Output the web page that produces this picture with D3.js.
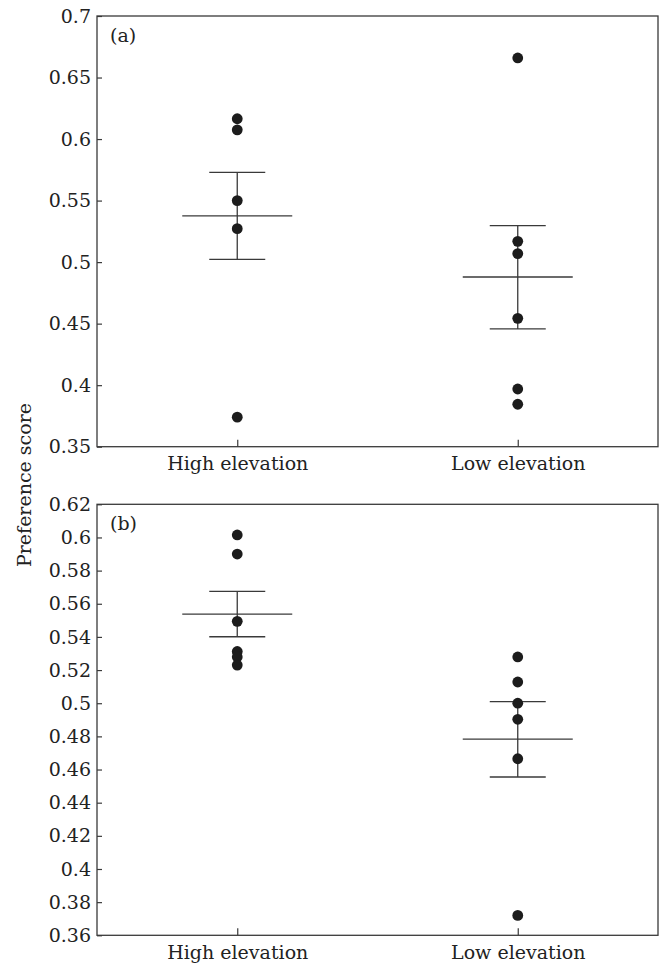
<!DOCTYPE html>
<html>
<head>
<meta charset="utf-8">
<script src="https://cdn.jsdelivr.net/npm/d3@7"></script>
<style>
  html, body { margin: 0; padding: 0; background: #fff; }
  svg text { font-family: "DejaVu Serif", serif; fill: #222; }
</style>
</head>
<body>
<svg id="chart" width="663" height="966"></svg>
<script>
// ---- data ----
const categories = ["High elevation", "Low elevation"];

const panelALabel = "(a)";
const panelAHigh = [0.6165, 0.6075, 0.55, 0.5272, 0.374];
const panelALow = [0.6659, 0.5169, 0.5069, 0.4543, 0.3969, 0.3845];
const panelAMean = [0.5375, 0.4879];
const panelAUpper = [0.573, 0.5296];
const panelALower = [0.5023, 0.4457];
const panelATicks = [0.35, 0.4, 0.45, 0.5, 0.55, 0.6, 0.65, 0.7];

const panelBLabel = "(b)";
const panelBHigh = [0.6015, 0.590, 0.5494, 0.5312, 0.5279, 0.523];
const panelBLow = [0.5279, 0.5128, 0.500, 0.4903, 0.4665, 0.372];
const panelBMean = [0.5538, 0.4784];
const panelBUpper = [0.5675, 0.501];
const panelBLower = [0.5401, 0.4555];
const panelBTicks = [0.36, 0.38, 0.4, 0.42, 0.44, 0.46, 0.48, 0.5, 0.52, 0.54, 0.56, 0.58, 0.6, 0.62];

const yAxisTitle = "Preference score";

// ---- layout ----
const svg = d3.select("#chart");
const left = 97, right = 658;
const lineColor = "#3a3a3a";
const dotColor = "#1c1c1c";
const fs = "19px";

const x = d3.scalePoint().domain(categories).range([left, right]).padding(0.5);

function drawPanel(cfg) {
  const y = d3.scaleLinear().domain([cfg.ticks[0], cfg.ticks[cfg.ticks.length - 1]]).range([cfg.bottom, cfg.top]);
  const g = svg.append("g");

  // y axis
  const ya = g.append("g").attr("transform", `translate(${left},0)`)
    .call(d3.axisLeft(y).tickValues(cfg.ticks).tickSize(-5).tickPadding(6).tickFormat(d3.format(".2~f")));
  ya.select(".domain").remove();
  ya.selectAll("line").attr("stroke", lineColor).attr("stroke-width", 1.2);
  ya.selectAll("text").style("font-size", fs).attr("fill", "#222");

  // x axis
  const xa = g.append("g").attr("transform", `translate(0,${cfg.bottom})`)
    .call(d3.axisBottom(x).tickSize(-7).tickPadding(10));
  xa.select(".domain").remove();
  xa.selectAll("line").attr("stroke", lineColor).attr("stroke-width", 1.2);
  xa.selectAll("text").style("font-size", fs).attr("fill", "#222");

  // frame
  g.append("rect")
    .attr("x", left).attr("y", cfg.top)
    .attr("width", right - left).attr("height", cfg.bottom - cfg.top)
    .attr("fill", "none").attr("stroke", lineColor).attr("stroke-width", 1.3);

  // panel label
  g.append("text").attr("x", left + 13).attr("y", cfg.top + 26)
    .style("font-size", fs).text(cfg.label);

  // error bars
  const stats = categories.map((c, i) => ({ c, mean: cfg.mean[i], up: cfg.upper[i], lo: cfg.lower[i] }));
  const eb = g.append("g").attr("stroke", lineColor).attr("stroke-width", 1.3);
  eb.selectAll(".v").data(stats).join("line")
    .attr("x1", d => x(d.c)).attr("x2", d => x(d.c))
    .attr("y1", d => y(d.up)).attr("y2", d => y(d.lo));
  eb.selectAll(".capu").data(stats).join("line")
    .attr("x1", d => x(d.c) - 28).attr("x2", d => x(d.c) + 28)
    .attr("y1", d => y(d.up)).attr("y2", d => y(d.up));
  eb.selectAll(".capl").data(stats).join("line")
    .attr("x1", d => x(d.c) - 28).attr("x2", d => x(d.c) + 28)
    .attr("y1", d => y(d.lo)).attr("y2", d => y(d.lo));
  eb.selectAll(".mean").data(stats).join("line")
    .attr("x1", d => x(d.c) - 55).attr("x2", d => x(d.c) + 55)
    .attr("y1", d => y(d.mean)).attr("y2", d => y(d.mean));

  // dots
  const pts = [];
  cfg.high.forEach(v => pts.push({ c: categories[0], v }));
  cfg.low.forEach(v => pts.push({ c: categories[1], v }));
  g.append("g").selectAll("circle").data(pts).join("circle")
    .attr("cx", d => x(d.c)).attr("cy", d => y(d.v)).attr("r", 5.4)
    .attr("fill", dotColor);
}

drawPanel({ top: 16, bottom: 446.7, ticks: panelATicks, label: panelALabel,
  high: panelAHigh, low: panelALow, mean: panelAMean, upper: panelAUpper, lower: panelALower });
drawPanel({ top: 504.3, bottom: 935.3, ticks: panelBTicks, label: panelBLabel,
  high: panelBHigh, low: panelBLow, mean: panelBMean, upper: panelBUpper, lower: panelBLower });

svg.append("text")
  .attr("transform", "translate(31,485) rotate(-90)")
  .attr("text-anchor", "middle")
  .style("font-size", fs)
  .text(yAxisTitle);
</script>
</body>
</html>
